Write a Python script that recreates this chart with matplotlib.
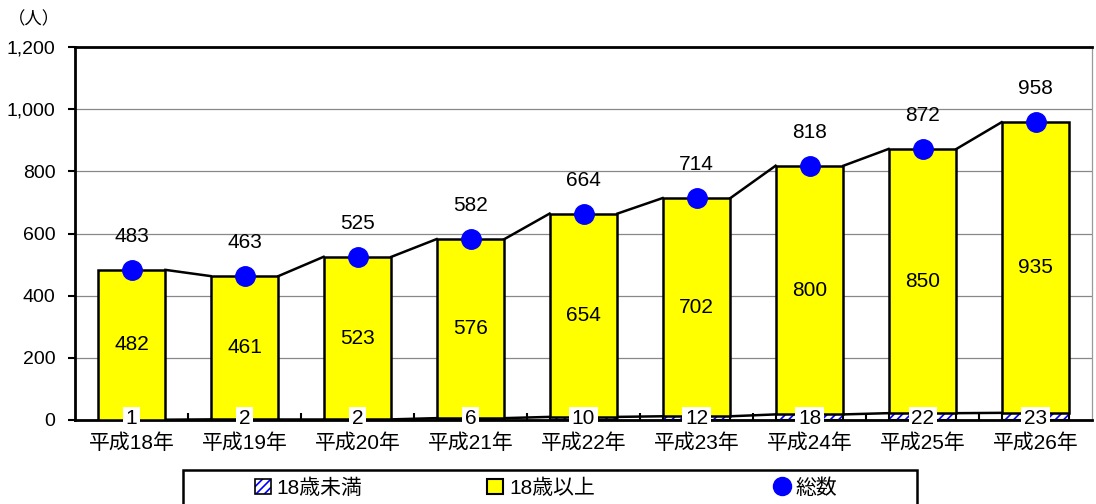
import matplotlib
matplotlib.use("Agg")
import matplotlib.pyplot as plt
import numpy as np
from matplotlib.patches import Patch, Rectangle
from matplotlib.lines import Line2D
from matplotlib.legend_handler import HandlerTuple

plt.rcParams['font.family'] = ['Liberation Sans', 'Noto Sans CJK JP', 'DejaVu Sans']
plt.rcParams['hatch.linewidth'] = 1.2

categories = ['平成18年', '平成19年', '平成20年', '平成21年', '平成22年',
              '平成23年', '平成24年', '平成25年', '平成26年']
under18 = [1, 2, 2, 6, 10, 12, 18, 22, 23]
over18 = [482, 461, 523, 576, 654, 702, 800, 850, 935]
totals = [483, 463, 525, 582, 664, 714, 818, 872, 958]
yticks = [0, 200, 400, 600, 800, 1000, 1200]
ytick_labels = ['0', '200', '400', '600', '800', '1,000', '1,200']

fig = plt.figure(figsize=(10.96, 5.04), dpi=100)
ax = fig.add_axes([75/1096, 84/504, (1092-75)/1096, (420-47)/504])

x = np.arange(len(categories))
w = 0.6
u = np.array(under18)
o = np.array(over18)
t = np.array(totals)

# hatched under-18 segment: blue hatch, then black outline
ax.bar(x, u, w, color='white', edgecolor='#0000ff', linewidth=0, hatch='////', zorder=3)
ax.bar(x, u, w, fill=False, edgecolor='black', linewidth=1.5, zorder=3)
ax.bar(x, o, w, bottom=u, color='#ffff00', edgecolor='black', linewidth=1.8, zorder=3)

# series lines
for i in range(len(x) - 1):
    for lvl in (u, u + o):
        ax.plot([x[i] + w/2, x[i+1] - w/2], [lvl[i], lvl[i+1]], color='black', lw=1.8, zorder=2)

ax.plot(x, t, 'o', color='#0000ff', markersize=14, zorder=5, linestyle='none')

fs = 15
for i in range(len(x)):
    ax.annotate(str(t[i]), (x[i], t[i]), xytext=(0, 24), textcoords='offset points',
                ha='center', va='center', fontsize=fs, zorder=6)
    ax.text(x[i], u[i] + o[i]/2, str(o[i]), ha='center', va='center', fontsize=fs, zorder=6)
    ax.text(x[i], 4, str(u[i]), ha='center', va='center', fontsize=fs, zorder=6,
            bbox=dict(boxstyle='square,pad=0.12', facecolor='white', edgecolor='none'))

ax.set_xlim(-0.5, len(x) - 0.5)
ax.set_ylim(0, 1200)
ax.set_yticks(yticks)
ax.set_yticklabels(ytick_labels, fontsize=14)
ax.set_xticks(x)
ax.set_xticklabels(categories, fontsize=15)
ax.tick_params(axis='x', which='major', length=0, pad=10)
ax.set_xticks(np.arange(0.5, len(x) - 0.5, 1), minor=True)
ax.tick_params(axis='x', which='minor', direction='in', length=5, width=1.5, color='black')
ax.tick_params(axis='y', direction='out', length=5, width=1.5, pad=9)
ax.grid(axis='y', color='#888888', linewidth=0.9, zorder=0)
ax.set_axisbelow(True)

for s in ('left', 'bottom', 'top'):
    ax.spines[s].set_linewidth(2)
    ax.spines[s].set_color('black')
ax.spines['right'].set_color('#999999')
ax.spines['right'].set_linewidth(0.9)

fig.text(34/1096, 1 - 19/504, '（人）', ha='center', va='center', fontsize=12.5)

# legend box
fig.patches.append(Rectangle((183/1096, -0.05), (917-183)/1096, (34/504) + 0.05,
                             transform=fig.transFigure, facecolor='white',
                             edgecolor='black', linewidth=1.8, zorder=1))
entries = [
    ((Patch(facecolor='white', edgecolor='#0000ff', hatch='////', linewidth=0),
      Patch(fill=False, edgecolor='black', linewidth=1.2)), '18歳未満', 255),
    (Patch(facecolor='#ffff00', edgecolor='black', linewidth=1.5), '18歳以上', 487),
    (Line2D([], [], marker='o', color='#0000ff', linestyle='none', markersize=13), '総数', 774),
]
for h, lab, px in entries:
    leg = fig.legend([h], [lab], loc='center left',
                     bbox_to_anchor=(px/1096, 1 - 488/504),
                     fontsize=15, frameon=False,
                     handlelength=0.75, handleheight=0.75, handletextpad=0.3,
                     borderaxespad=0, borderpad=0,
                     handler_map={tuple: HandlerTuple(ndivide=1, pad=0)})
    leg.set_zorder(2)

fig.savefig('out.png', dpi=100)
